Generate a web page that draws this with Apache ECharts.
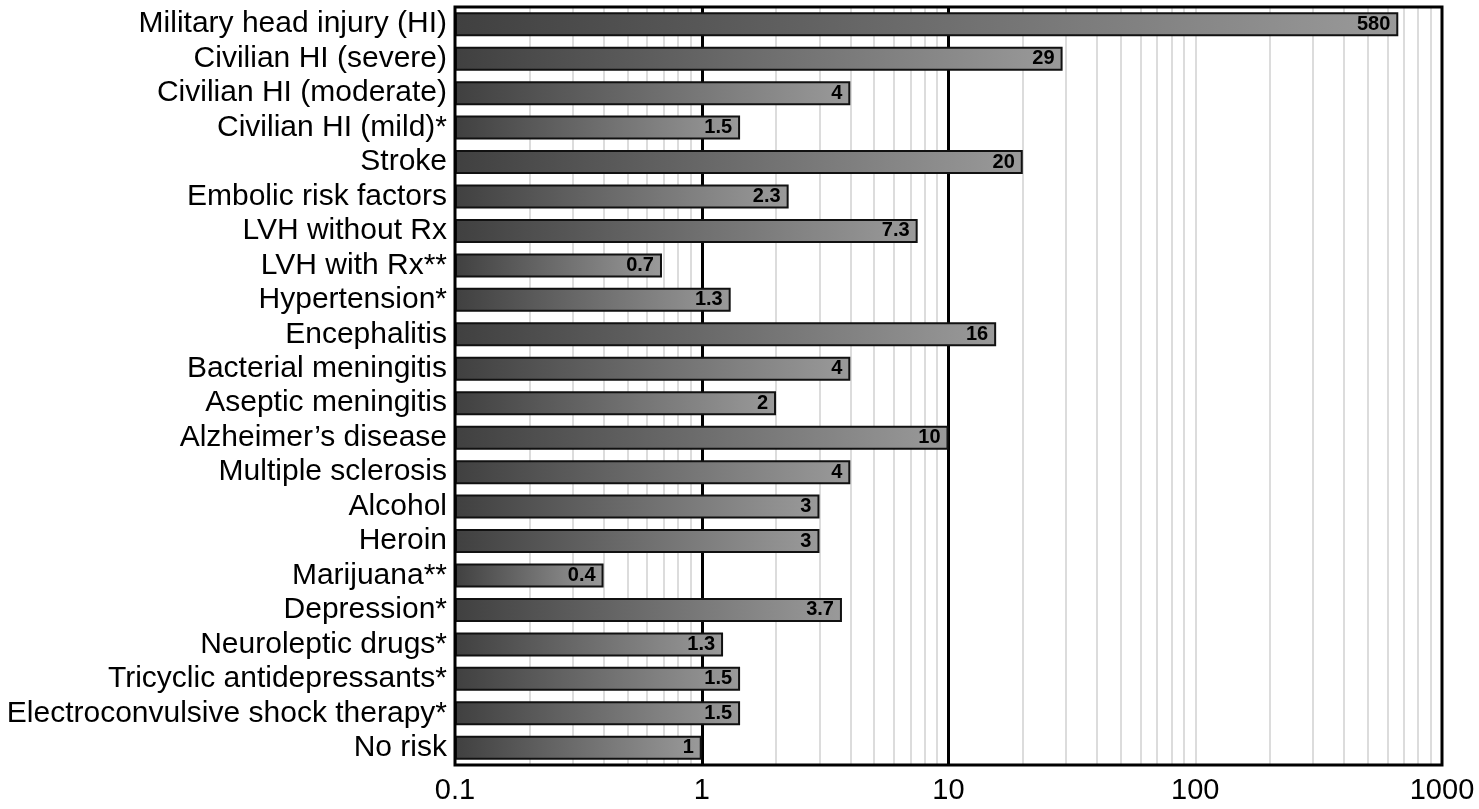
<!DOCTYPE html>
<html>
<head>
<meta charset="utf-8">
<script src="https://cdn.jsdelivr.net/npm/echarts@6/dist/echarts.min.js"></script>
<style>
html,body{margin:0;padding:0;background:#fff;}
#chart{width:1479px;height:809px;}
</style>
</head>
<body>
<div id="chart"></div>
<script>
const categories = [
  'Military head injury (HI)', 'Civilian HI (severe)', 'Civilian HI (moderate)', 'Civilian HI (mild)*',
  'Stroke', 'Embolic risk factors', 'LVH without Rx', 'LVH with Rx**', 'Hypertension*',
  'Encephalitis', 'Bacterial meningitis', 'Aseptic meningitis', 'Alzheimer\u2019s disease',
  'Multiple sclerosis', 'Alcohol', 'Heroin', 'Marijuana**', 'Depression*', 'Neuroleptic drugs*',
  'Tricyclic antidepressants*', 'Electroconvulsive shock therapy*', 'No risk'
];
// bar lengths as drawn in the picture
const barValues = [665, 29, 4, 1.43, 20, 2.25, 7.5, 0.69, 1.31, 15.6, 4, 2, 10, 4, 3, 3, 0.4, 3.7, 1.22, 1.43, 1.43, 1];
// printed labels
const labelTexts = ['580', '29', '4', '1.5', '20', '2.3', '7.3', '0.7', '1.3', '16', '4', '2', '10', '4', '3', '3', '0.4', '3.7', '1.3', '1.5', '1.5', '1'];
const tickLabels = [0.1, 1, 10, 100, 1000];
const minorGridValues = [0.2,0.3,0.4,0.5,0.6,0.7,0.8,0.9, 2,3,4,5,6,7,8,9, 20,30,40,50,60,70,80,90, 100, 200,300,400,500,600,700,800,900];
const majorGridValues = [1, 10];

const chart = echarts.init(document.getElementById('chart'));
const grad = new echarts.graphic.LinearGradient(0, 0, 1, 0, [
  {offset: 0, color: '#404040'},
  {offset: 1, color: '#9a9a9a'}
]);
chart.setOption({
  animation: false,
  grid: {left: 455, right: 37, top: 7, bottom: 44, show: true, borderColor: '#000', borderWidth: 3, backgroundColor: 'transparent', z: 3},
  xAxis: {
    type: 'log', logBase: 10, min: 0.1, max: 1000, startValue: 0.1,
    axisLine: {show: false}, axisTick: {show: false},
    splitLine: {show: false},
    axisLabel: {
      color: '#000', fontSize: 29, fontFamily: 'Liberation Sans, Arial, sans-serif', margin: 11,
      formatter: function (v) {
        for (const t of tickLabels) { if (Math.abs(Math.log10(v) - Math.log10(t)) < 1e-6) return String(t); }
        return '';
      }
    }
  },
  yAxis: {
    type: 'category', data: categories, inverse: true,
    axisLine: {show: false}, axisTick: {show: false},
    axisLabel: {interval: 0, color: '#000', fontSize: 30, fontFamily: 'Liberation Sans, Arial, sans-serif', margin: 8}
  },
  series: [
    {
      type: 'bar', data: barValues, barWidth: 24, z: 2,
      itemStyle: {color: grad, borderColor: '#111', borderWidth: 2},
      label: {
        show: true, position: 'insideRight', distance: 8,
        color: '#000', fontWeight: 'bold', fontSize: 20, fontFamily: 'Liberation Sans, Arial, sans-serif',
        formatter: p => labelTexts[p.dataIndex]
      },
      markLine: {
        silent: true, symbol: 'none', z: 1, animation: false,
        label: {show: false},
        data: minorGridValues.map(v => ({xAxis: v, lineStyle: {color: '#dcdcdc', width: 2, type: 'solid'}}))
          .concat(majorGridValues.map(v => ({xAxis: v, lineStyle: {color: '#000', width: 3, type: 'solid'}})))
      }
    }
  ]
});
</script>
</body>
</html>
